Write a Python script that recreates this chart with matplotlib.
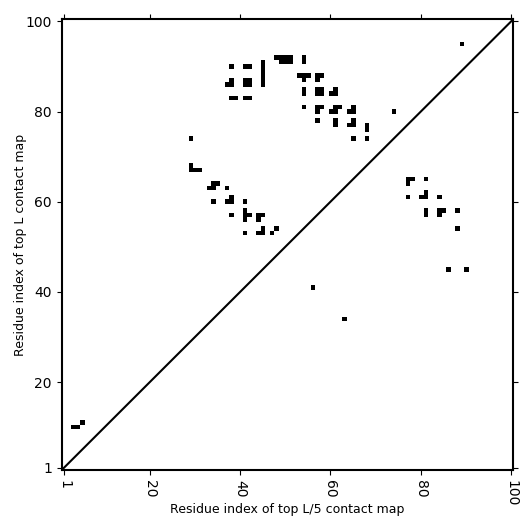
import numpy as np
import matplotlib
matplotlib.use("Agg")
import matplotlib.pyplot as plt

L = 100

# contacts above the diagonal (column index, row index)
upper_x = [38, 41, 42,
           45, 45, 45, 45, 45, 45,
           38, 37, 38,
           41, 42, 41, 42,
           38, 39, 41, 42,
           48, 49, 50, 51, 49, 50, 51,
           54, 54,
           53, 54, 55, 54,
           57, 58, 57,
           54, 54,
           57, 58, 57, 58,
           61, 60, 61,
           54,
           57, 58, 57,
           61, 62, 60, 61,
           65, 64, 65,
           57,
           61, 61,
           65, 64, 65,
           68, 68,
           65, 68,
           74, 89, 29,
           29, 29, 30, 31,
           34, 35, 33, 34,
           37, 34,
           38, 37, 38,
           41, 38,
           41, 41, 41, 42,
           44, 45, 44,
           41,
           45, 44, 45,
           48, 47,
           3, 4, 5]
upper_y = [90, 90, 90,
           86, 87, 88, 89, 90, 91,
           87, 86, 86,
           86, 86, 87, 87,
           83, 83, 83, 83,
           92, 92, 92, 92, 91, 91, 91,
           91, 92,
           88, 88, 88, 87,
           88, 88, 87,
           84, 85,
           84, 84, 85, 85,
           85, 84, 84,
           81,
           81, 81, 80,
           81, 81, 80, 80,
           81, 80, 80,
           78,
           77, 78,
           78, 77, 77,
           76, 77,
           74, 74,
           80, 95, 74,
           68, 67, 67, 67,
           64, 64, 63, 63,
           63, 60,
           61, 60, 60,
           60, 57,
           56, 57, 58, 57,
           57, 57, 56,
           53,
           54, 53, 53,
           54, 53,
           10, 10, 11]

# contacts below the diagonal
lower_x = [77, 78, 77, 81,
           77, 81, 81, 80, 84,
           81, 81, 84, 85, 84, 88,
           88, 86, 90, 56, 63]
lower_y = [65, 65, 64, 65,
           61, 62, 61, 61, 61,
           57, 58, 58, 58, 57, 58,
           54, 45, 45, 41, 34]

tick_vals = [1, 20, 40, 60, 80, 100]

plt.rcParams["font.size"] = 9

cmap = np.zeros((L, L))
for x, y in zip(upper_x + lower_x, upper_y + lower_y):
    cmap[y - 1, x - 1] = 1

fig = plt.figure(figsize=(5.32, 5.32), dpi=100)
ax = fig.add_axes([0.116, 0.1165, 0.849, 0.8475])
ax.imshow(cmap, cmap="Greys", origin="lower", interpolation="nearest",
          extent=(0.5, L + 0.5, 0.5, L + 0.5), vmin=0, vmax=1, aspect="auto")
ax.plot([0.5, L + 0.5], [0.5, L + 0.5], color="black", lw=1.5)
ax.set_xlim(0.5, L + 0.5)
ax.set_ylim(0.5, L + 0.5)
ax.set_xticks(tick_vals)
ax.set_yticks(tick_vals)
ax.set_xticklabels([str(t) for t in tick_vals], rotation=270)
ax.tick_params(top=True, right=True, direction="out", labelsize=10)
for sp in ax.spines.values():
    sp.set_linewidth(1.5)
ax.set_xlabel("Residue index of top L/5 contact map", labelpad=-2)
ax.set_ylabel("Residue index of top L contact map", labelpad=-1)
fig.savefig("out.png", dpi=100)
